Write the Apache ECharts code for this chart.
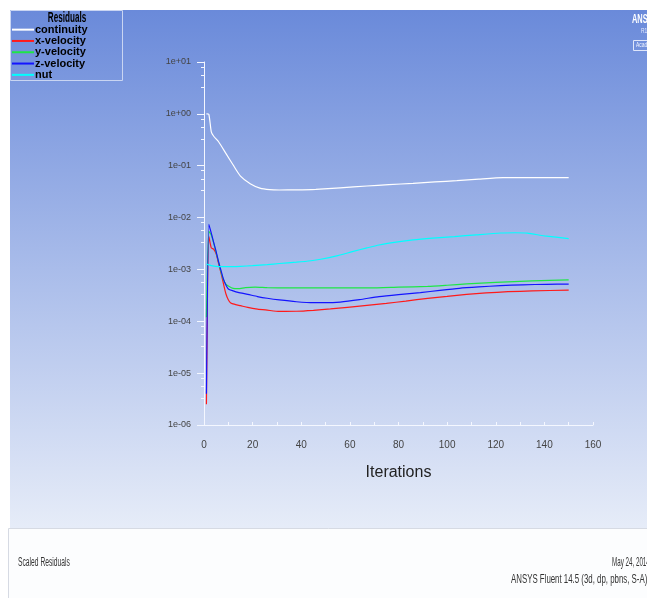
<!DOCTYPE html>
<html>
<head>
<meta charset="utf-8">
<script src="https://cdn.jsdelivr.net/npm/echarts@6/dist/echarts.min.js"></script>
<style>
  html, body { margin: 0; padding: 0; background: #ffffff; }
  #chart { width: 647px; height: 598px; }
</style>
</head>
<body>
<div id="chart"></div>
<script>
// Scaled residual history, Fluent solver run
const seriesNames = ['continuity', 'x-velocity', 'y-velocity', 'z-velocity', 'nut'];
const seriesColors = ['#ffffff', '#ff1a1a', '#1ee646', '#1414ff', '#00ffff'];

const continuityIter = [1, 2, 3, 4, 6, 9, 12, 15, 19, 23, 27, 31, 38, 46, 56, 67, 76, 86, 95, 104, 113, 123, 135, 150];
const continuityRes  = [1.0, 0.98, 0.45, 0.37, 0.29, 0.173, 0.103, 0.063, 0.045, 0.037, 0.0345, 0.034, 0.0342, 0.0351, 0.0375, 0.0406, 0.043, 0.0458, 0.0487, 0.0514, 0.055, 0.0587, 0.059, 0.0587];

const xVelIter = [1, 2, 3, 4, 5, 6, 7, 8, 9, 10, 11, 13, 15, 18, 22, 26, 31, 38, 45, 52, 59, 67, 75, 83, 92, 100, 108, 116, 125, 135, 150];
const xVelRes  = [2.5e-6, 4.3e-3, 2.6e-3, 2.45e-3, 2.0e-3, 1.3e-3, 8.5e-4, 5.3e-4, 3.4e-4, 2.6e-4, 2.25e-4, 2.1e-4, 2.0e-4, 1.85e-4, 1.72e-4, 1.64e-4, 1.55e-4, 1.56e-4, 1.63e-4, 1.73e-4, 1.86e-4, 2.03e-4, 2.22e-4, 2.45e-4, 2.77e-4, 3.03e-4, 3.31e-4, 3.52e-4, 3.72e-4, 3.85e-4, 4.0e-4];

const yVelIter = [1, 2, 3, 4, 5, 6, 7, 8, 9, 10, 12, 14, 17, 21, 26, 35, 50, 68, 80, 92, 100, 108, 120, 135, 150];
const yVelRes  = [1.2e-4, 5.4e-3, 4.6e-3, 3.2e-3, 2.1e-3, 1.4e-3, 9.0e-4, 6.3e-4, 5.2e-4, 4.8e-4, 4.3e-4, 4.25e-4, 4.45e-4, 4.55e-4, 4.45e-4, 4.4e-4, 4.4e-4, 4.4e-4, 4.55e-4, 4.7e-4, 4.95e-4, 5.25e-4, 5.65e-4, 6.0e-4, 6.3e-4];

const zVelIter = [1, 2, 3, 4, 5, 6, 7, 8, 9, 10, 12, 14, 18, 22, 26, 31, 38, 45, 50, 56, 64, 72, 80, 89, 97, 105, 113, 122, 131, 141, 150];
const zVelRes  = [4e-6, 7.4e-3, 5.0e-3, 3.3e-3, 2.2e-3, 1.4e-3, 9.5e-4, 6.5e-4, 5.0e-4, 4.2e-4, 3.85e-4, 3.6e-4, 3.3e-4, 3.0e-4, 2.78e-4, 2.58e-4, 2.38e-4, 2.28e-4, 2.28e-4, 2.35e-4, 2.62e-4, 3.0e-4, 3.28e-4, 3.57e-4, 3.95e-4, 4.33e-4, 4.6e-4, 4.87e-4, 5.05e-4, 5.17e-4, 5.2e-4];

const nutIter = [1, 3, 6, 10, 15, 20, 26, 31, 38, 44, 48, 55, 61, 67, 72, 79, 86, 94, 103, 112, 122, 128, 133, 140, 150];
const nutRes  = [1.27e-3, 1.18e-3, 1.13e-3, 1.13e-3, 1.15e-3, 1.18e-3, 1.24e-3, 1.3e-3, 1.38e-3, 1.47e-3, 1.57e-3, 1.85e-3, 2.2e-3, 2.6e-3, 2.96e-3, 3.35e-3, 3.7e-3, 4.0e-3, 4.3e-3, 4.65e-3, 5.04e-3, 5.1e-3, 5.0e-3, 4.45e-3, 3.92e-3];

const xTicks = [0, 20, 40, 60, 80, 100, 120, 140, 160];
const yDecades = [1e-6, 1e-5, 1e-4, 1e-3, 1e-2, 1e-1, 1e0, 1e1];
const yMinorMantissa = [8, 5.6, 3.3];

const SANS = "'Liberation Sans', Arial, sans-serif";

const iterSets = [continuityIter, xVelIter, yVelIter, zVelIter, nutIter];
const resSets = [continuityRes, xVelRes, yVelRes, zVelRes, nutRes];

function pairs(xs, ys) { return xs.map((x, i) => [x, ys[i]]); }

function expLabel(v) {
  const e = Math.round(Math.log10(v));
  const sign = e < 0 ? '-' : '+';
  const a = Math.abs(e);
  return '1e' + sign + (a < 10 ? '0' : '') + a;
}

const minorValues = [];
yDecades.slice(0, -1).forEach(d => yMinorMantissa.forEach(m => minorValues.push(m * d)));

// condensed caption text
function caption(text, x, y, font, fill, scaleX, align) {
  return {
    type: 'text', z: 6, silent: true,
    x: x, y: y, scaleX: scaleX,
    style: { text: text, fill: fill, font: font, align: align || 'left' }
  };
}

const chart = echarts.init(document.getElementById('chart'), null, { renderer: 'canvas' });

const series = seriesNames.map((name, i) => ({
  name: name,
  type: 'line',
  data: pairs(iterSets[i], resSets[i]),
  showSymbol: false,
  symbol: 'none',
  smooth: 0.2,
  color: seriesColors[i],
  lineStyle: { width: 1.2, color: seriesColors[i] },
  emphasis: { disabled: true },
  animation: false
}));

const option = {
  backgroundColor: '#ffffff',
  animation: false,
  graphic: [
    {
      type: 'rect', z: -10, silent: true,
      shape: { x: 10, y: 10, width: 637, height: 518 },
      style: {
        fill: new echarts.graphic.LinearGradient(0, 0, 0, 1, [
          { offset: 0, color: '#6a8ada' },
          { offset: 0.5, color: '#a9bcea' },
          { offset: 1, color: '#e6ecf8' }
        ])
      }
    },
    {
      type: 'rect', z: -10, silent: true,
      shape: { x: 8.5, y: 528.5, width: 640, height: 72 },
      style: { fill: '#fcfdfe', stroke: '#d6dae3', lineWidth: 1 }
    },
    {
      type: 'rect', z: 5, silent: true,
      shape: { x: 10.5, y: 10.5, width: 112, height: 70 },
      style: { fill: 'none', stroke: '#c9d5f2', lineWidth: 1 }
    },
    caption('Residuals', 67, 11, 'bold 14px ' + SANS, '#000000', 0.58, 'center'),
    caption('Scaled Residuals', 18, 557, '12px ' + SANS, '#333333', 0.56),
    caption('May 24, 2014', 612, 557, '12px ' + SANS, '#333333', 0.52),
    caption('ANSYS Fluent 14.5 (3d, dp, pbns, S-A)', 511, 574, '12px ' + SANS, '#333333', 0.655),
    caption('ANSYS', 632, 14, 'bold 12px ' + SANS, '#ffffff', 0.62),
    caption('R14.5', 641, 28, '7px ' + SANS, '#e6ecff', 0.7),
    {
      type: 'rect', z: 6, silent: true,
      shape: { x: 633.5, y: 40.5, width: 30, height: 10 },
      style: { fill: 'none', stroke: '#dfe6fa', lineWidth: 1 }
    },
    caption('Academic', 636, 42, '7px ' + SANS, '#eef2ff', 0.7)
  ],
  legend: {
    left: 12, top: 24,
    orient: 'vertical',
    itemGap: 0,
    itemWidth: 22, itemHeight: 2,
    icon: 'rect',
    padding: 0,
    selectedMode: false,
    data: seriesNames,
    textStyle: { color: '#000000', fontSize: 11, fontWeight: 'bold', fontFamily: SANS, lineHeight: 11.3, padding: [0, 0, 0, -4] }
  },
  grid: { left: 204, top: 62, right: 54, bottom: 173, containLabel: false },
  xAxis: {
    type: 'value',
    min: xTicks[0], max: xTicks[xTicks.length - 1], interval: 20,
    name: 'Iterations',
    nameLocation: 'middle',
    nameGap: 40,
    nameTextStyle: { color: '#222222', fontSize: 16, fontFamily: SANS },
    axisLine: { show: true, lineStyle: { color: '#f4f7ff', width: 1 } },
    axisTick: { show: true, inside: true, length: 3, lineStyle: { color: '#f4f7ff' } },
    minorTick: { show: true, splitNumber: 2, length: 3, lineStyle: { color: '#f4f7ff' } },
    axisLabel: { color: '#444444', fontSize: 10, fontFamily: SANS, margin: 15 },
    splitLine: { show: false }
  },
  yAxis: [
    {
      type: 'log', logBase: 10,
      min: yDecades[0], max: yDecades[yDecades.length - 1],
      splitNumber: 7,
      axisLine: { show: true, lineStyle: { color: '#f4f7ff', width: 1 } },
      axisTick: { show: true, length: 7, lineStyle: { color: '#f4f7ff' } },
      axisLabel: { color: '#444444', fontSize: 9, fontFamily: SANS, margin: 13, formatter: expLabel },
      splitLine: { show: false }
    },
    {
      type: 'log', logBase: 10,
      min: yDecades[0], max: yDecades[yDecades.length - 1],
      position: 'left',
      axisLine: { show: false },
      axisTick: { show: true, length: 3, customValues: minorValues, lineStyle: { color: '#f4f7ff' } },
      axisLabel: { show: false },
      splitLine: { show: false }
    }
  ],
  series: series
};

chart.setOption(option);
</script>
</body>
</html>
